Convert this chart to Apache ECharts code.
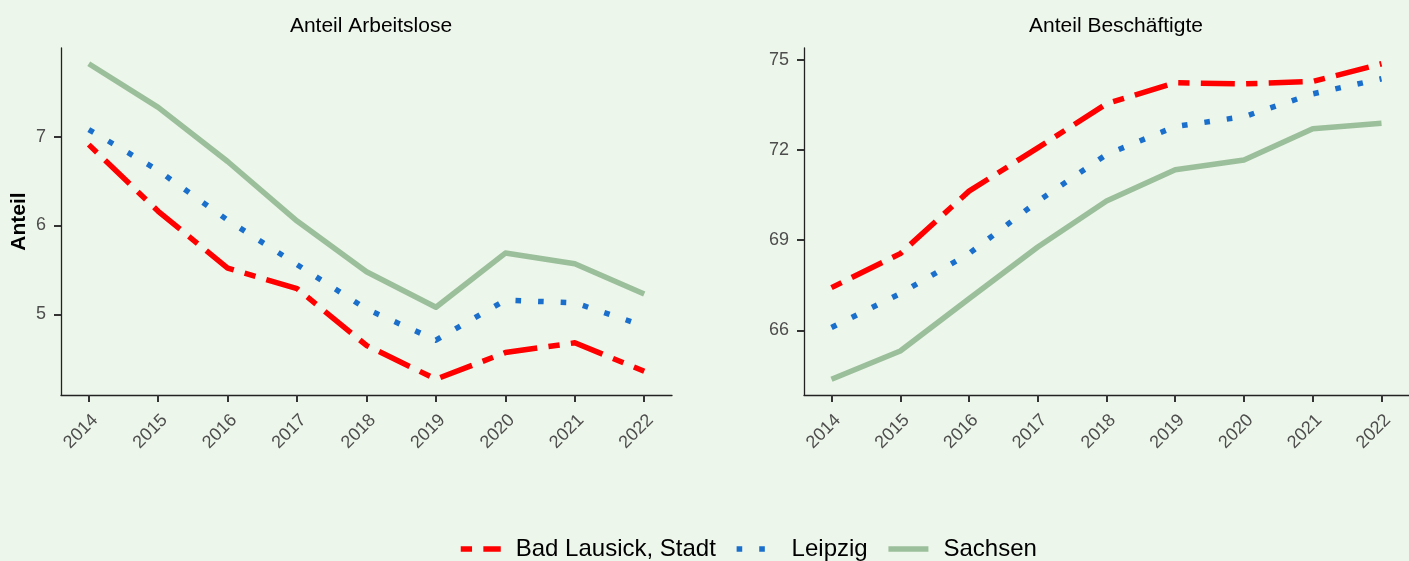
<!DOCTYPE html>
<html>
<head>
<meta charset="utf-8">
<script src="https://cdn.jsdelivr.net/npm/echarts@6/dist/echarts.min.js"></script>
<style>
html,body{margin:0;padding:0;background:#EDF6EA;}
#c{width:1409px;height:561px;}
</style>
</head>
<body>
<div id="c"></div>
<script>
const years = [2014, 2015, 2016, 2017, 2018, 2019, 2020, 2021, 2022];
const seriesNames = ['Bad Lausick, Stadt', 'Leipzig', 'Sachsen'];
const panelTitles = ['Anteil Arbeitslose', 'Anteil Beschäftigte'];
const yTicksLeft = [5, 6, 7];
const yTicksRight = [66, 69, 72, 75];

// Anteil Arbeitslose
const alBadLausick = [6.91, 6.16, 5.52, 5.29, 4.65, 4.27, 4.57, 4.68, 4.36];
const alLeipzig    = [7.08, 6.62, 6.06, 5.56, 5.06, 4.71, 5.16, 5.13, 4.87];
const alSachsen    = [7.82, 7.33, 6.72, 6.05, 5.48, 5.08, 5.69, 5.57, 5.23];
// Anteil Beschäftigte
const bsBadLausick = [67.42, 68.55, 70.63, 72.07, 73.54, 74.24, 74.20, 74.28, 74.87];
const bsLeipzig    = [66.09, 67.22, 68.55, 70.29, 71.85, 72.78, 73.11, 73.87, 74.37];
const bsSachsen    = [64.37, 65.31, 67.05, 68.77, 70.30, 71.34, 71.67, 72.71, 72.89];

const FONT = 'Liberation Sans, Arial, sans-serif';
const colors = ['#FF0000', '#1A6FCC', '#9BBF9B'];
const dashes = [[11.3, 11.3, 34, 11.3], [5.6, 17], 'solid'];

function expand(arrs) {
  const all = [].concat(...arrs);
  const mn = Math.min(...all), mx = Math.max(...all);
  const r = mx - mn;
  return [mn - 0.05 * r, mx + 0.05 * r];
}
const leftRange = expand([alBadLausick, alLeipzig, alSachsen]);
const rightRange = expand([bsBadLausick, bsLeipzig, bsSachsen]);

function xAxis(gi) {
  return {
    type: 'value', gridIndex: gi, min: years[0] - 0.4, max: years[years.length - 1] + 0.4,
    axisLine: {show: true, lineStyle: {color: '#222', width: 1.3}},
    axisTick: {show: true, customValues: years, length: 7, lineStyle: {color: '#333', width: 2}},
    axisLabel: {customValues: years, rotate: 45, margin: 16, align: 'right', verticalAlign: 'top',
      color: '#4D4D4D', fontSize: 18, fontFamily: FONT,
      formatter: v => String(Math.round(v))},
    splitLine: {show: false}
  };
}
function yAxis(gi, range, ticks, name) {
  return {
    type: 'value', gridIndex: gi, min: range[0], max: range[1],
    name: name || '', nameLocation: 'middle', nameGap: 31, nameRotate: 90,
    nameTextStyle: {fontSize: 21, fontWeight: 'bold', color: '#000', fontFamily: FONT},
    axisLine: {show: true, lineStyle: {color: '#222', width: 1.3}},
    axisTick: {show: true, customValues: ticks, length: 7, lineStyle: {color: '#333', width: 2}},
    axisLabel: {customValues: ticks, margin: 15, color: '#4D4D4D', fontSize: 18, fontFamily: FONT},
    splitLine: {show: false}
  };
}
function mkSeries(name, idx, gi, vals) {
  return {
    type: 'line', name: name, xAxisIndex: gi, yAxisIndex: gi,
    data: years.map((y, i) => [y, vals[i]]),
    symbol: 'none', smooth: false, z: 3 - idx,
    lineStyle: {color: colors[idx], width: 5.5, type: dashes[idx], cap: 'butt', join: 'round'},
    itemStyle: {color: colors[idx]}
  };
}

const chart = echarts.init(document.getElementById('c'), null, {renderer: 'canvas'});
chart.setOption({
  backgroundColor: '#EDF6EA',
  animation: false,
  title: [
    {text: panelTitles[0], left: 366, top: 11, textAlign: 'center',
     textStyle: {fontSize: 21, fontWeight: 'normal', color: '#000', fontFamily: FONT}},
    {text: panelTitles[1], left: 1111, top: 11, textAlign: 'center',
     textStyle: {fontSize: 21, fontWeight: 'normal', color: '#000', fontFamily: FONT}}
  ],
  grid: [
    {left: 61, top: 48, width: 611, height: 347, containLabel: false},
    {left: 804, top: 48, width: 614, height: 347, containLabel: false}
  ],
  xAxis: [xAxis(0), xAxis(1)],
  yAxis: [yAxis(0, leftRange, yTicksLeft, 'Anteil'), yAxis(1, rightRange, yTicksRight)],
  legend: {
    data: seriesNames, left: 458, top: 537, padding: 0, itemWidth: 40, itemHeight: 14, itemGap: 18,
    itemStyle: {color: 'transparent', borderWidth: 0, opacity: 0},
    lineStyle: {width: 5.5},
    textStyle: {fontSize: 24, color: '#000', fontFamily: FONT, padding: [0, 0, 0, 10]}
  },
  series: [
    mkSeries(seriesNames[0], 0, 0, alBadLausick),
    mkSeries(seriesNames[1], 1, 0, alLeipzig),
    mkSeries(seriesNames[2], 2, 0, alSachsen),
    mkSeries(seriesNames[0], 0, 1, bsBadLausick),
    mkSeries(seriesNames[1], 1, 1, bsLeipzig),
    mkSeries(seriesNames[2], 2, 1, bsSachsen)
  ]
});
</script>
</body>
</html>
